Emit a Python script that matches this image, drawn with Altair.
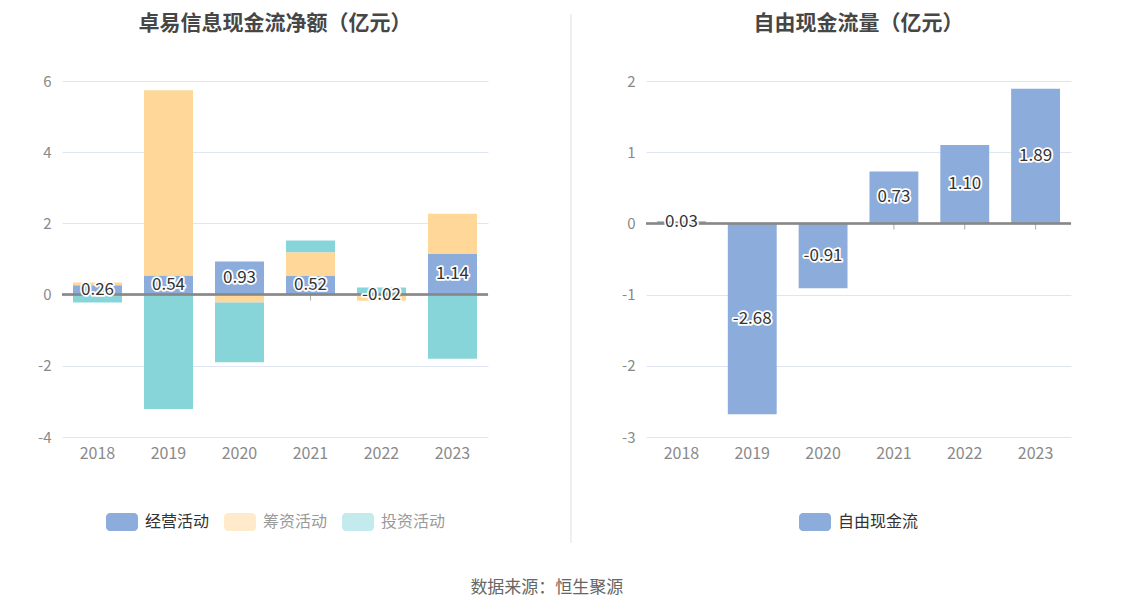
import altair as alt
import pandas as pd

years = ["2018", "2019", "2020", "2021", "2022", "2023"]
series = ["经营活动", "筹资活动", "投资活动"]
operating = [0.26, 0.54, 0.93, 0.52, -0.02, 1.14]
financing = [0.08, 5.20, -0.22, 0.67, -0.15, 1.13]
investing = [-0.22, -3.21, -1.68, 0.33, 0.20, -1.80]
fcf = [0.03, -2.68, -0.91, 0.73, 1.10, 1.89]
left_ticks = [-4, -2, 0, 2, 4, 6]
right_ticks = [-3, -2, -1, 0, 1, 2]

colors = ["#8CACDB", "#FFD899", "#87D5D9"]

rows = []
for i, y in enumerate(years):
    for j, (s, vals) in enumerate(zip(series, [operating, financing, investing])):
        rows.append({"year": y, "series": s, "order": j, "value": vals[i]})
df_left = pd.DataFrame(rows)


def label_df(vals, name):
    d = pd.DataFrame({"year": years, "value": vals, "series": name})
    d["mid"] = d["value"] / 2
    d["zero"] = 0.0
    d["label"] = [f"{v:.2f}" for v in vals]
    return d


df_op = label_df(operating, "经营活动")
df_right = label_df(fcf, "自由现金流")

FONT = "Noto Sans CJK SC"
W, H = 426, 356
SYM = ("M-0.75,-0.5625 H0.75 A0.25,0.25 0 0 1 1,-0.3125 V0.3125 "
       "A0.25,0.25 0 0 1 0.75,0.5625 H-0.75 A0.25,0.25 0 0 1 -1,0.3125 "
       "V-0.3125 A0.25,0.25 0 0 1 -0.75,-0.5625 Z")

XS = alt.Scale(paddingInner=0.31, paddingOuter=0.155)
XAX = alt.Axis(labelAngle=0)


def xenc():
    return alt.X("year:N", sort=years, title=None, scale=XS, axis=XAX)


def make_y(domain, ticks):
    sc = alt.Scale(domain=domain, nice=False)
    ax = alt.Axis(values=ticks, labelExpr="toString(datum.value)")

    def yenc(field, stack=None):
        kw = {}
        if stack is not None:
            kw["stack"] = stack
        return alt.Y(field, title=None, scale=sc, axis=ax, **kw)
    return yenc


def legend(domain_first, lx, ly):
    return alt.Legend(orient="none", legendX=lx, legendY=ly, direction="horizontal",
                      title=None, symbolType=SYM, symbolSize=1024,
                      symbolStrokeWidth=0, labelFont=FONT, labelFontSize=16,
                      labelOffset=7, columnPadding=14,
                      labelColor={"expr": f"datum.value === '{domain_first}' ? '#333333' : '#9a9a9a'"},
                      symbolOpacity={"expr": f"datum.value === '{domain_first}' ? 1 : 0.5"})


def common_layers(df_lab, yenc):
    ticks = alt.Chart(df_lab).mark_tick(orient="vertical", size=6, thickness=1,
                                        color="#888888", yOffset=3).encode(
        x=xenc(), y=yenc("zero:Q"))
    zero = alt.Chart(df_lab).mark_rule(color="#888888", strokeWidth=1.5).encode(
        y=yenc("zero:Q"))
    halo = alt.Chart(df_lab).mark_text(font=FONT, fontSize=17, stroke="white",
                                       strokeWidth=3.5, strokeJoin="round",
                                       fill="white").encode(
        x=xenc(), y=yenc("mid:Q"), text="label:N")
    txt = alt.Chart(df_lab).mark_text(font=FONT, fontSize=17, color="#333333").encode(
        x=xenc(), y=yenc("mid:Q"), text="label:N")
    return ticks, zero, halo, txt


TITLE_OFFSET = 40

# Left chart
yl = make_y([-4, 6], left_ticks)
bars_left = alt.Chart(df_left).mark_bar().encode(
    x=xenc(),
    y=yl("value:Q", stack="zero"),
    color=alt.Color("series:N", sort=series,
                    scale=alt.Scale(domain=series, range=colors),
                    legend=legend("经营活动", 44, 425)),
    order=alt.Order("order:Q", sort="ascending"),
)
t1, z1, h1, x1 = common_layers(df_op, yl)
left = alt.layer(t1, bars_left, z1, h1, x1).properties(
    width=W, height=H,
    title=alt.TitleParams("卓易信息现金流净额（亿元）", fontSize=21, font=FONT,
                          fontWeight="bold", color="#464646", offset=TITLE_OFFSET),
)

# Divider panel
divider = alt.Chart(df_op).mark_rule(color="#EFEFEF", strokeWidth=1.5).encode(
    x=alt.value(82), y=alt.value(-67), y2=alt.value(462)
).properties(width=117, height=H)

# Right chart
yr = make_y([-3, 2], right_ticks)
bars_right = alt.Chart(df_right).mark_bar().encode(
    x=xenc(),
    y=yr("value:Q"),
    color=alt.Color("series:N", scale=alt.Scale(domain=["自由现金流"], range=[colors[0]]),
                    legend=legend("自由现金流", 153, 425)),
)
t2, z2, h2, x2 = common_layers(df_right, yr)
right = alt.layer(t2, bars_right, z2, h2, x2).properties(
    width=425, height=H,
    title=alt.TitleParams("自由现金流量（亿元）", fontSize=21, font=FONT,
                          fontWeight="bold", color="#464646", offset=TITLE_OFFSET),
)

chart = alt.hconcat(left, divider, right, spacing=0).resolve_scale(
    color="independent", y="independent", x="independent"
).properties(
    title=alt.TitleParams("数据来源：恒生聚源", orient="bottom", fontSize=17, font=FONT,
                          fontWeight="normal", color="#666666", offset=36, anchor="middle"),
    padding={"left": 14, "top": 5, "right": 0, "bottom": 12},
    background="white",
).configure_view(stroke=None).configure_axisX(
    labelColor="#8a8a8a", labelFontSize=16, labelFont=FONT, domain=False, ticks=False,
    labelPadding=8, grid=False,
).configure_axisY(
    labelColor="#8a8a8a", labelFontSize=15, labelFont=FONT, domain=False, ticks=False,
    labelPadding=11, grid=True, gridColor="#E0E6F1", gridWidth=1,
    minExtent=40, maxExtent=40,
)

chart.save("out.html", embed_options={"renderer": "svg", "actions": False})
